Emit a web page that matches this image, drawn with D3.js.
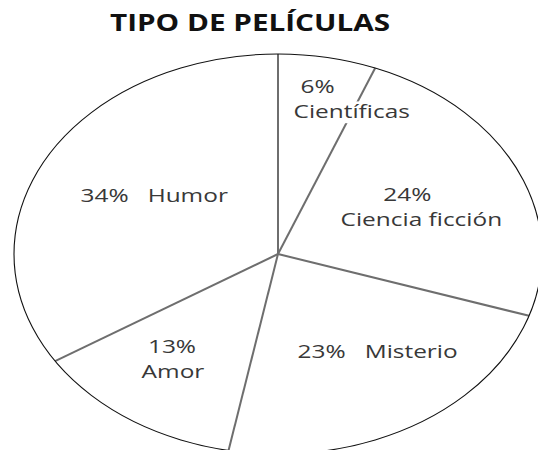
<!DOCTYPE html>
<html>
<head>
<meta charset="utf-8">
<script src="https://cdn.jsdelivr.net/npm/d3@7"></script>
<style>
  body { margin: 0; background: #fff; }
  text { font-family: "Open Sans", sans-serif; }
</style>
</head>
<body>
<div id="chart"></div>
<script>
var categories = ["Científicas", "Ciencia ficción", "Misterio", "Amor", "Humor"];
var values = [6, 24, 23, 13, 34];
var title = "TIPO DE PELÍCULAS";

// label layout: nudge from the slice centroid, one or two lines, name shift
var labelNudge = [[10, -36], [-14, 5], [19, -6], [-17, 7], [15, -1]];
var twoLines = [true, true, false, true, false];
var nameShift = [34, 14, 0, 1, 0];

var width = 538, height = 450,
    cx = 278, cy = 254,
    rx = 264, ry = 200,
    stretch = rx / ry, // the whole picture is stretched sideways
    fontSize = 18.5;

var data = categories.map(function(c, i) { return { name: c, value: values[i] }; });

var svg = d3.select("#chart").append("svg")
    .attr("width", width)
    .attr("height", height);

svg.append("text")
    .attr("transform", "translate(250,31) scale(" + stretch + ",1)")
    .attr("text-anchor", "middle")
    .style("font-weight", "bold")
    .style("font-size", "22.5px")
    .attr("fill", "#111")
    .text(title);

var pie = d3.pie().sort(null).value(function(d) { return d.value; });
var arcs = pie(data);

var arc = d3.arc().innerRadius(0).outerRadius(ry);
var labelArc = d3.arc().innerRadius(ry * 0.6).outerRadius(ry * 0.6);

var g = svg.append("g")
    .attr("transform", "translate(" + cx + "," + cy + ") scale(" + stretch + ",1)");

g.selectAll(".slice")
    .data(arcs)
    .enter().append("path")
    .attr("class", "slice")
    .attr("d", arc)
    .attr("fill", "#fff");

g.selectAll(".divider")
    .data(arcs)
    .enter().append("line")
    .attr("class", "divider")
    .attr("x1", 0).attr("y1", 0)
    .attr("x2", function(d) { return d3.pointRadial(d.startAngle, ry)[0]; })
    .attr("y2", function(d) { return d3.pointRadial(d.startAngle, ry)[1]; })
    .attr("stroke", "#6e6e6e")
    .attr("stroke-width", 2)
    .attr("vector-effect", "non-scaling-stroke");

g.append("circle")
    .attr("r", ry)
    .attr("fill", "none")
    .attr("stroke", "#111")
    .attr("stroke-width", 1.1)
    .attr("vector-effect", "non-scaling-stroke");

var labels = svg.selectAll(".label")
    .data(arcs)
    .enter().append("g")
    .attr("class", "label")
    .attr("transform", function(d, i) {
        var c = labelArc.centroid(d);
        var x = cx + c[0] * stretch + labelNudge[i][0],
            y = cy + c[1] + labelNudge[i][1];
        return "translate(" + x + "," + y + ") scale(" + stretch + ",1)";
    });

function addText(sel, x, y, str) {
    return sel.append("text")
        .attr("x", x)
        .attr("y", y)
        .attr("text-anchor", "middle")
        .style("font-size", fontSize + "px")
        .style("white-space", "pre")
        .attr("fill", "#383838")
        .text(str);
}

labels.each(function(d, i) {
    var lg = d3.select(this);
    var pct = d.data.value + "%";
    if (twoLines[i]) {
        addText(lg, 0, -0.4 * fontSize, pct);
        var bg = lg.append("rect").attr("fill", "#fff");
        var name = addText(lg, nameShift[i] / stretch, 0.97 * fontSize, d.data.name);
        var b = name.node().getBBox();
        bg.attr("x", b.x - 2).attr("y", b.y + 3)
          .attr("width", b.width + 4).attr("height", b.height - 3);
    } else {
        addText(lg, 0, 0.35 * fontSize, pct + "   " + d.data.name);
    }
});
</script>
</body>
</html>
